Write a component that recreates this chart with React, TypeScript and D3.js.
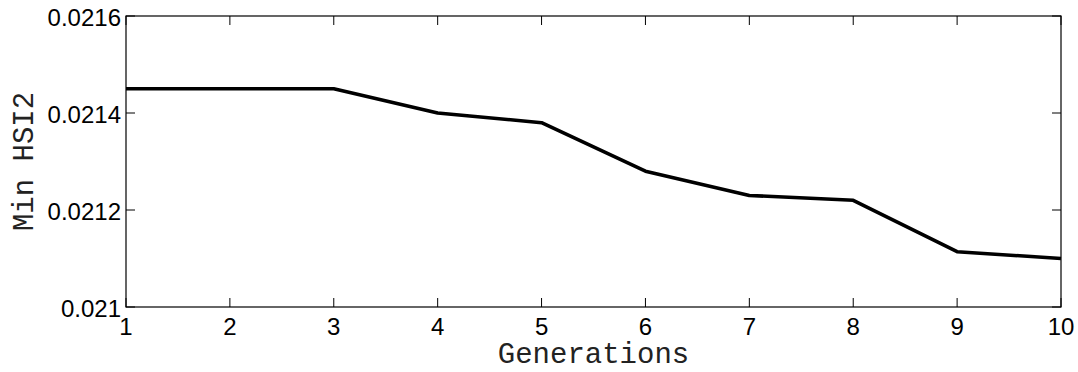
import * as d3 from 'd3';
import React, { useEffect, useRef } from 'react';

const generations = [1, 2, 3, 4, 5, 6, 7, 8, 9, 10];
const minHsi2 = [0.02145, 0.02145, 0.02145, 0.0214, 0.02138, 0.02128, 0.02123, 0.02122, 0.021114, 0.0211];
const yTicks = [0.021, 0.0212, 0.0214, 0.0216];
const yTickLabels = ["0.021", "0.0212", "0.0214", "0.0216"];

const WIDTH = 1078;
const HEIGHT = 372;

const App: React.FC = () => {
  const svgRef = useRef<SVGSVGElement>(null);

  useEffect(() => {
    if (!svgRef.current) { return; }
    const svg = d3.select(svgRef.current);
    svg.selectAll("*").remove();

    const margin = { top: 16, right: 17, bottom: 65, left: 126 };
    const w = WIDTH - margin.left - margin.right;
    const h = HEIGHT - margin.top - margin.bottom;

    const x = d3.scaleLinear().domain([1, 10]).range([0, w]);
    const y = d3.scaleLinear().domain([0.021, 0.0216]).range([h, 0]);

    const g = svg.append("g").attr("transform", `translate(${margin.left},${margin.top})`);

    // MATLAB style box
    g.append("rect")
      .attr("x", 0).attr("y", 0)
      .attr("width", w).attr("height", h)
      .attr("fill", "white")
      .attr("stroke", "black")
      .attr("stroke-width", 1.2);

    const tickLen = 9;
    // ticks on all four sides, pointing in
    g.selectAll(".xt-b").data(generations).enter().append("line")
      .attr("x1", d => x(d)).attr("x2", d => x(d))
      .attr("y1", h).attr("y2", h - tickLen)
      .attr("stroke", "black").attr("stroke-width", 1);
    g.selectAll(".xt-t").data(generations).enter().append("line")
      .attr("x1", d => x(d)).attr("x2", d => x(d))
      .attr("y1", 0).attr("y2", tickLen)
      .attr("stroke", "black").attr("stroke-width", 1);
    g.selectAll(".yt-l").data(yTicks).enter().append("line")
      .attr("x1", 0).attr("x2", tickLen)
      .attr("y1", d => y(d)).attr("y2", d => y(d))
      .attr("stroke", "black").attr("stroke-width", 1);
    g.selectAll(".yt-r").data(yTicks).enter().append("line")
      .attr("x1", w).attr("x2", w - tickLen)
      .attr("y1", d => y(d)).attr("y2", d => y(d))
      .attr("stroke", "black").attr("stroke-width", 1);

    // tick labels
    g.selectAll(".xl").data(generations).enter().append("text")
      .attr("x", d => x(d))
      .attr("y", h + 28)
      .attr("text-anchor", "middle")
      .style("font-family", "'Liberation Sans', Arial, sans-serif")
      .style("font-size", "24px")
      .text(d => `${d}`);

    g.selectAll(".yl").data(yTicks).enter().append("text")
      .attr("x", -5)
      .attr("y", d => y(d) + 10)
      .attr("text-anchor", "end")
      .style("font-family", "'Liberation Sans', Arial, sans-serif")
      .style("font-size", "24px")
      .text((_d, i) => yTickLabels[i]);

    // data line
    const line = d3.line<number>()
      .x((_d, i) => x(generations[i]))
      .y(d => y(d));

    g.append("path")
      .datum(minHsi2)
      .attr("d", line)
      .attr("fill", "none")
      .attr("stroke", "black")
      .attr("stroke-width", 3.6)
      .attr("stroke-linejoin", "round");

    // axis titles
    g.append("text")
      .attr("x", w / 2)
      .attr("y", h + 56)
      .attr("text-anchor", "middle")
      .style("font-family", "'Liberation Mono', 'Courier New', monospace")
      .style("font-size", "29px")
      .style("fill", "#222")
      .text("Generations");

    g.append("text")
      .attr("transform", `translate(${-margin.left + 33},${h / 2}) rotate(-90)`)
      .attr("text-anchor", "middle")
      .style("font-family", "'Liberation Mono', 'Courier New', monospace")
      .style("font-size", "29px")
      .style("fill", "#222")
      .text("Min HSI2");
  }, []);

  return (
    <svg
      ref={svgRef}
      width={WIDTH}
      height={HEIGHT}
      style={{ position: "absolute", left: 0, top: 0, background: "white" }}
    />
  );
};

export default App;
